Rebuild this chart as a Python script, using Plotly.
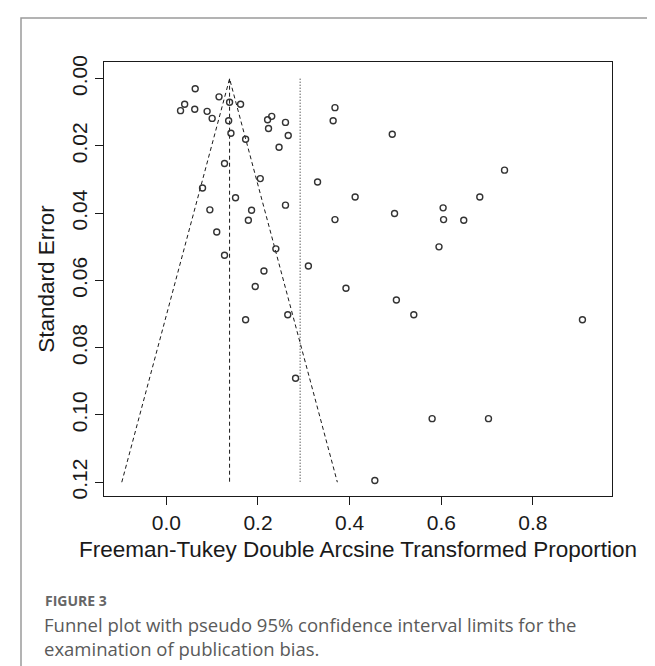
import plotly.graph_objects as go

# ---- data ----
ft_proportion = [0.063, 0.115, 0.138, 0.162, 0.040, 0.031, 0.062, 0.089, 0.100, 0.136,
                 0.141, 0.173, 0.221, 0.230, 0.223, 0.260, 0.266, 0.246, 0.127, 0.205,
                 0.079, 0.151, 0.260, 0.095, 0.186, 0.179, 0.110, 0.239, 0.127, 0.213,
                 0.194, 0.265, 0.173, 0.282, 0.368, 0.364, 0.493, 0.330, 0.412, 0.498,
                 0.604, 0.684, 0.368, 0.738, 0.605, 0.649, 0.595, 0.310, 0.392, 0.502,
                 0.540, 0.908, 0.580, 0.703, 0.455]
standard_error = [0.0030, 0.0054, 0.0070, 0.0076, 0.0076, 0.0095, 0.0091, 0.0097, 0.0118, 0.0125,
                  0.0162, 0.0180, 0.0122, 0.0112, 0.0148, 0.0130, 0.0169, 0.0204, 0.0252, 0.0297,
                  0.0325, 0.0354, 0.0376, 0.0390, 0.0391, 0.0421, 0.0456, 0.0506, 0.0525, 0.0572,
                  0.0618, 0.0702, 0.0717, 0.0891, 0.0086, 0.0125, 0.0165, 0.0307, 0.0352, 0.0401,
                  0.0384, 0.0352, 0.0419, 0.0272, 0.0419, 0.0421, 0.0500, 0.0557, 0.0623, 0.0658,
                  0.0702, 0.0717, 0.1011, 0.1011, 0.1195]
pooled_estimate = 0.138
reference_line = 0.292
se_max = 0.12
z_value = 1.96

x_ticks = [0.0, 0.2, 0.4, 0.6, 0.8]
x_tick_labels = ["0.0", "0.2", "0.4", "0.6", "0.8"]
y_ticks = [0.00, 0.02, 0.04, 0.06, 0.08, 0.10, 0.12]
y_tick_labels = ["0.00", "0.02", "0.04", "0.06", "0.08", "0.10", "0.12"]

x_title = "Freeman-Tukey Double Arcsine Transformed Proportion"
y_title = "Standard Error"
fig_label = "FIGURE 3"
caption_1 = "Funnel plot with pseudo 95% confidence interval limits for the"
caption_2 = "examination of publication bias."

# ---- layout geometry (pixels) ----
W, H = 655, 666
L, R, T, B = 96, 604, 54, 488


def px(xp):
    return (xp - L) / (R - L)


def py(yp):
    return (B - yp) / (B - T)


ink = "#1a1a1a"
fig = go.Figure()

# funnel
fig.add_trace(go.Scatter(
    x=[pooled_estimate - z_value * se_max, pooled_estimate, pooled_estimate + z_value * se_max],
    y=[se_max, 0, se_max], mode="lines",
    line=dict(color=ink, width=1, dash="4px,3px"), hoverinfo="skip", showlegend=False))
fig.add_trace(go.Scatter(
    x=[pooled_estimate, pooled_estimate], y=[0, se_max], mode="lines",
    line=dict(color=ink, width=1, dash="4px,3px"), hoverinfo="skip", showlegend=False))
fig.add_trace(go.Scatter(
    x=[reference_line, reference_line], y=[0, se_max], mode="lines",
    line=dict(color=ink, width=1, dash="1px,2px"), hoverinfo="skip", showlegend=False))

# studies
fig.add_trace(go.Scatter(
    x=ft_proportion, y=standard_error, mode="markers",
    marker=dict(symbol="circle-open", size=6, color="#333333", line=dict(width=1.4)),
    showlegend=False))

axis_font = dict(family="Liberation Sans, Arial, sans-serif", size=21, color=ink)
title_font = dict(family="Liberation Sans, Arial, sans-serif", size=22.5, color=ink)

fig.update_xaxes(
    range=[-0.136, 0.9725], tickvals=x_ticks, ticktext=x_tick_labels,
    showline=True, mirror=True, linecolor=ink, linewidth=1,
    ticks="outside", ticklen=8, tickcolor=ink, tickwidth=1,
    showgrid=False, zeroline=False, tickfont=axis_font,
    title=dict(text=x_title, font=title_font, standoff=8))
fig.update_yaxes(
    range=[0.1241, -0.00497], tickvals=y_ticks, ticktext=y_tick_labels,
    showline=True, mirror=True, linecolor=ink, linewidth=1,
    ticks="outside", ticklen=8, tickcolor=ink, tickwidth=1,
    showgrid=False, zeroline=False, tickfont=axis_font, tickangle=-90,
    title=dict(text=y_title, font=title_font, standoff=6))

# outer frame
fig.add_shape(type="rect", xref="paper", yref="paper",
              x0=px(13), x1=px(645), y0=py(720), y1=py(10),
              line=dict(color="#9a9a9a", width=1.5), fillcolor="rgba(0,0,0,0)", layer="below")

cap_font = dict(family="Open Sans, Noto Sans, sans-serif", size=18.5, color="#5a5a5a")
fig.add_annotation(text="<b>" + fig_label + "</b>", xref="paper", yref="paper", x=px(35), y=py(592),
                   xanchor="left", yanchor="middle", showarrow=False,
                   font=dict(family="Open Sans, Noto Sans, sans-serif", size=14, color="#666666"))
fig.add_annotation(text=caption_1, xref="paper", yref="paper", x=px(34), y=py(616),
                   xanchor="left", yanchor="middle", showarrow=False, font=cap_font)
fig.add_annotation(text=caption_2, xref="paper", yref="paper", x=px(34), y=py(640),
                   xanchor="left", yanchor="middle", showarrow=False, font=cap_font)

fig.update_layout(
    width=W, height=H, margin=dict(l=L, r=W - R, t=T, b=H - B, autoexpand=False),
    paper_bgcolor="white", plot_bgcolor="white", showlegend=False)

fig.write_html("out.html")
